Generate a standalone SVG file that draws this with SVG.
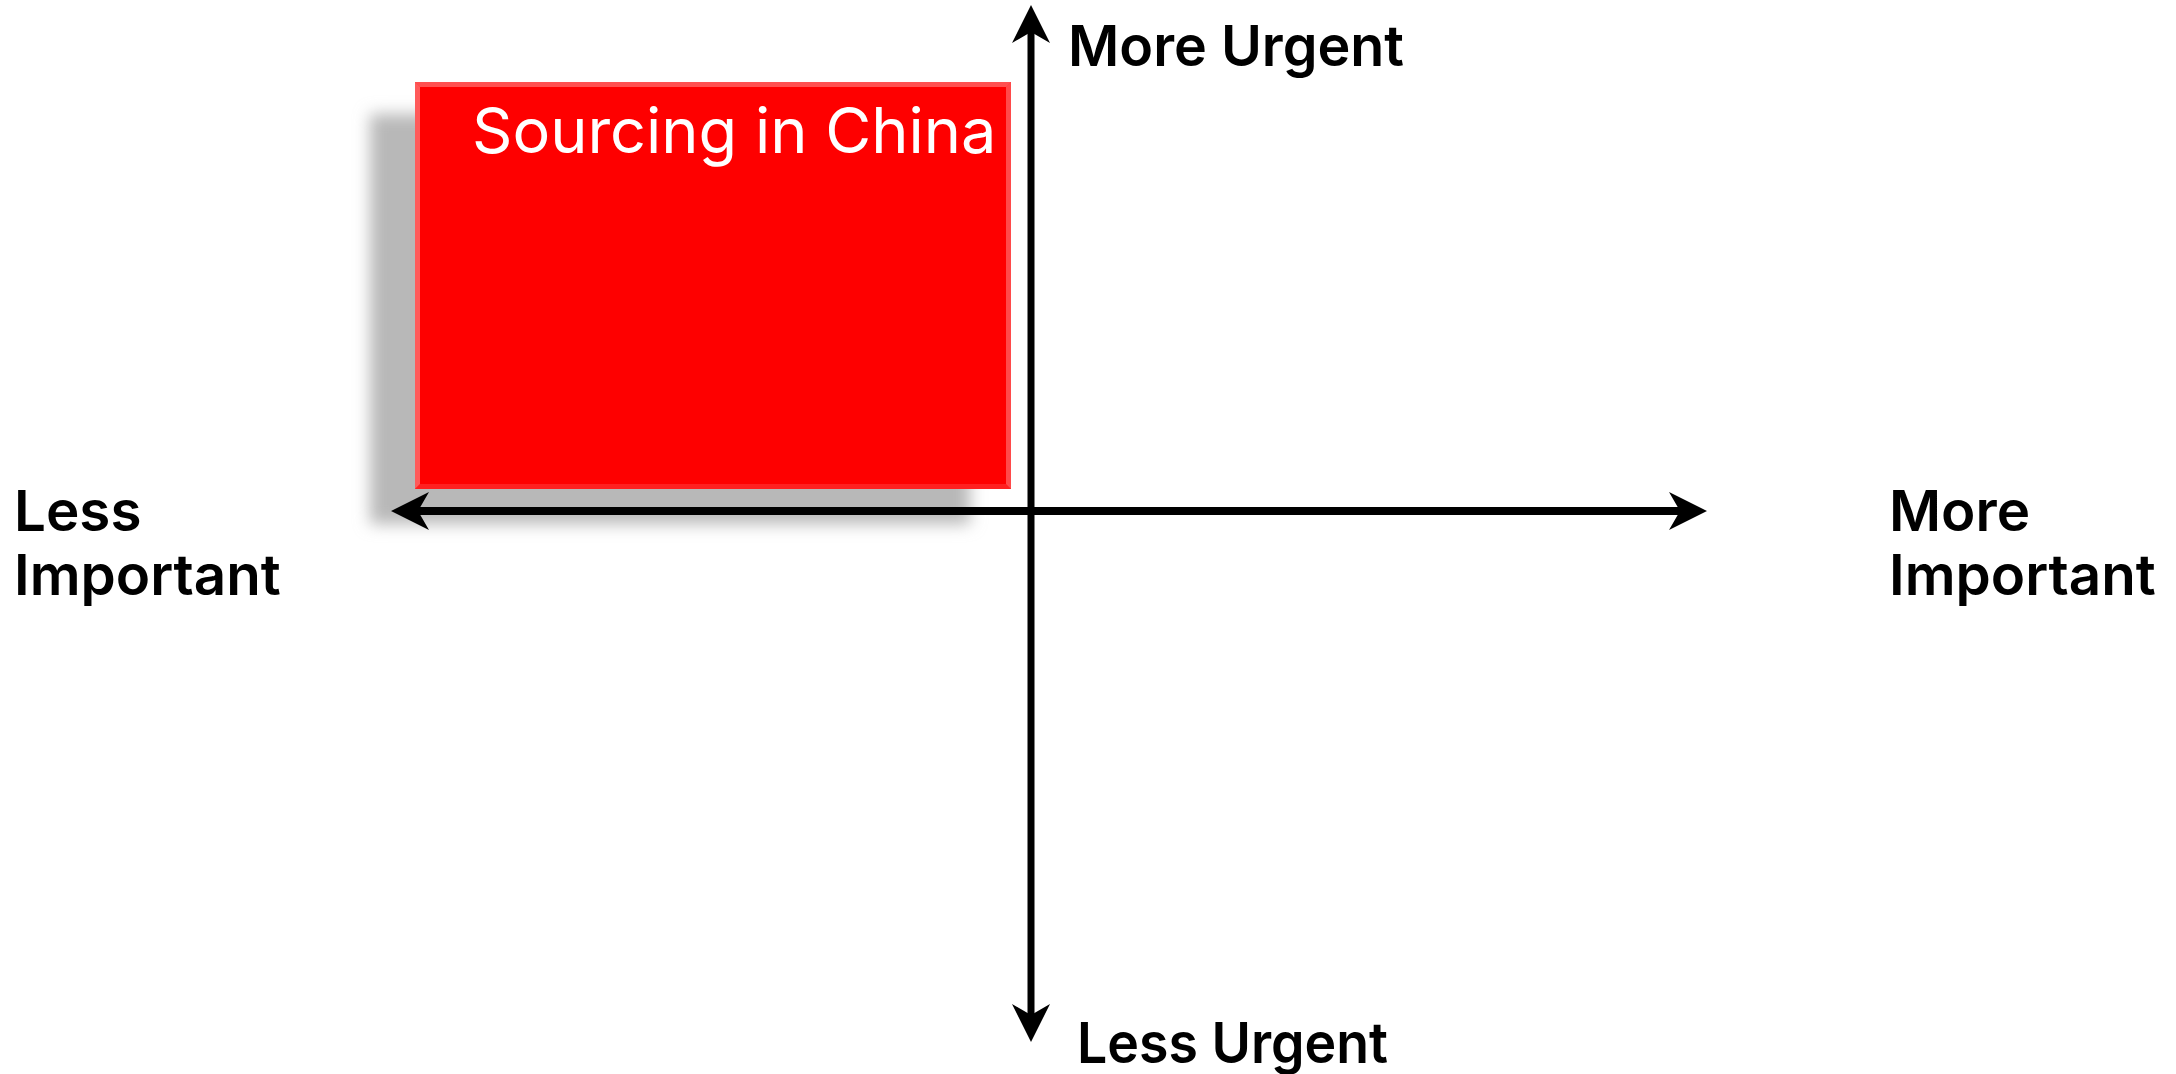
<svg xmlns="http://www.w3.org/2000/svg" width="2176" height="1074" viewBox="0 0 2176 1074">
  <style>
    .axis { stroke: #000; fill: none; }
    .lbl { font-family: Inter, "Liberation Sans", sans-serif; font-weight: 600; font-size: 56.5px; fill: #000; }
    .box-text { font-family: Inter, "Liberation Sans", sans-serif; font-weight: 400; font-size: 63px; fill: #fff; }
  </style>
  <defs>
    <marker id="arrow" viewBox="0 0 40 40" refX="11" refY="20" markerWidth="40" markerHeight="40" markerUnits="userSpaceOnUse" orient="auto-start-reverse">
      <path d="M38,20 L0,1 L11,20 L0,39 Z" fill="#000"/>
    </marker>
    <filter id="blur" x="-10%" y="-10%" width="120%" height="120%">
      <feGaussianBlur stdDeviation="8"/>
    </filter>
  </defs>
  <rect width="2176" height="1074" fill="#fff"/>

  <g id="node-sourcing">
    <rect x="370" y="114" width="600" height="410" fill="#b8b8b8" filter="url(#blur)"/>
    <rect x="415" y="82" width="596" height="407" fill="#ff3a3a"/>
    <polygon points="415,82 1011,82 1006,87 420,87" fill="#ff5050"/>
    <polygon points="415,82 420,87 420,484 415,489" fill="#ff5a5a"/>
    <polygon points="1011,82 1011,489 1006,484 1006,87" fill="#ff4a4a"/>
    <polygon points="415,489 420,484 1006,484 1011,489" fill="#ff2020"/>
    <rect x="420" y="87" width="586" height="397" fill="#fe0000"/>
    <text class="box-text" x="472" y="153">Sourcing in China</text>
  </g>

  <g id="connectors">
    <line class="axis" x1="418" y1="511" x2="1680" y2="511" stroke-width="8" marker-start="url(#arrow)" marker-end="url(#arrow)"/>
    <line class="axis" x1="1031" y1="32" x2="1031" y2="1015" stroke-width="7" marker-start="url(#arrow)" marker-end="url(#arrow)"/>
  </g>

  <g id="label-more-urgent">
    <text class="lbl" x="1068" y="66" textLength="336" lengthAdjust="spacingAndGlyphs">More Urgent</text>
  </g>
  <g id="label-less-urgent">
    <text class="lbl" x="1077" y="1063" textLength="311" lengthAdjust="spacingAndGlyphs">Less Urgent</text>
  </g>
  <g id="label-less-important">
    <text class="lbl" x="14" y="531">Less</text>
    <text class="lbl" x="14" y="595">Important</text>
  </g>
  <g id="label-more-important">
    <text class="lbl" x="1889" y="531">More</text>
    <text class="lbl" x="1889" y="595">Important</text>
  </g>
</svg>
